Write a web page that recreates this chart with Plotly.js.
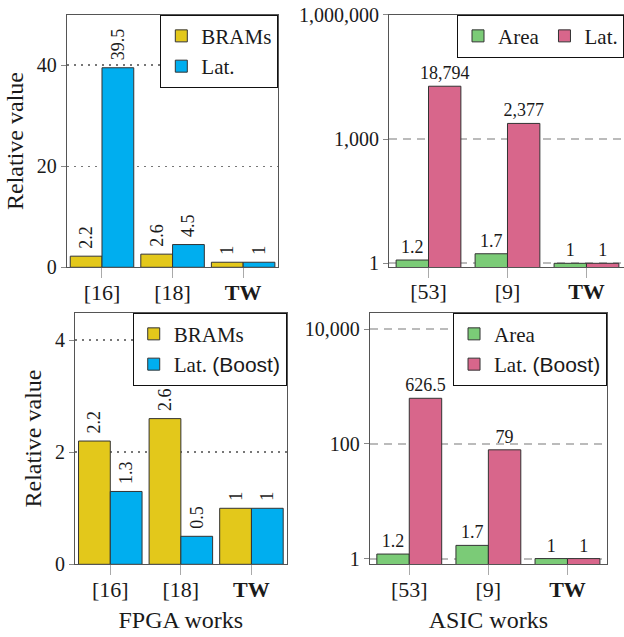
<!DOCTYPE html>
<html><head><meta charset="utf-8">
<script src="https://cdn.plot.ly/plotly-3.0.1.min.js"></script>
<style>html,body{margin:0;padding:0;background:#fff}</style>
</head><body><div id="chart" style="width:624px;height:637px"></div>
<script>
// ---- data ----
const fpgaCats = ['[16]', '[18]', 'TW'];
const asicCats = ['[53]', '[9]', 'TW'];
const fpgaTickText = ['[16]', '[18]', '<b>TW</b>'];
const asicTickText = ['[53]', '[9]', '<b>TW</b>'];

const fpgaBrams = [2.2, 2.6, 1];
const fpgaLat = [39.5, 4.5, 1];
const fpgaBramsBoost = [2.2, 2.6, 1];
const fpgaLatBoost = [1.3, 0.5, 1];

const asicArea = [1.2, 1.7, 1];
const asicLat = [18794, 2377, 1];
const asicAreaBoost = [1.2, 1.7, 1];
const asicLatBoost = [626.5, 79, 1];

const tlTicks = [0, 20, 40];
const blTicks = [0, 2, 4];
const trTicks = [1, 1000, 1000000];
const trTickText = ['1', '1,000', '1,000,000'];
const brTicks = [1, 100, 10000];
const brTickText = ['1', '100', '10,000'];

// ---- style ----
const GOLD = '#E3C81B', CYAN = '#00AEEF', GREEN = '#7BCB77', PINK = '#D8668B';
const SERIF = 'Liberation Serif';
const OUT = {color: '#333', width: 1};

function bar(x, y, name, color, xa, ya, leg, offset, width, angle, tmpl) {
  return {
    type: 'bar', x: x, y: y, name: name, xaxis: xa, yaxis: ya, legend: leg,
    offset: offset, width: width,
    marker: {color: color, line: OUT},
    texttemplate: tmpl, textposition: 'outside', textangle: angle,
    textfont: {family: SERIF, size: 18, color: '#1a1a1a'},
    constraintext: 'none', cliponaxis: false, hoverinfo: 'x+y'
  };
}

const BOOST = 'Lat. <span style="font-family:Liberation Sans">(Boost)</span>';
const VT = '\u00a0%{y}';
const data = [
  bar(fpgaCats, fpgaBrams, 'BRAMs', GOLD, 'x', 'y', 'legend', -0.45, 0.45, -90, VT),
  bar(fpgaCats, fpgaLat, 'Lat.', CYAN, 'x', 'y', 'legend', 0, 0.45, -90, VT),
  bar(asicCats, asicArea, 'Area', GREEN, 'x2', 'y2', 'legend2', -0.41, 0.41, 0, '%{y:,}'),
  bar(asicCats, asicLat, 'Lat.', PINK, 'x2', 'y2', 'legend2', 0, 0.41, 0, '%{y:,}'),
  bar(fpgaCats, fpgaBramsBoost, 'BRAMs', GOLD, 'x3', 'y3', 'legend3', -0.45, 0.45, -90, VT),
  bar(fpgaCats, fpgaLatBoost, BOOST, CYAN, 'x3', 'y3', 'legend3', 0, 0.45, -90, VT),
  bar(asicCats, asicAreaBoost, 'Area', GREEN, 'x4', 'y4', 'legend4', -0.41, 0.41, 0, '%{y:,}'),
  bar(asicCats, asicLatBoost, BOOST, PINK, 'x4', 'y4', 'legend4', 0, 0.41, 0, '%{y:,}')
];

function xax(domain, anchor, cats, ticktext, range, title) {
  const a = {
    domain: domain, anchor: anchor, type: 'category', range: range,
    tickmode: 'array', tickvals: cats, ticktext: ticktext,
    showline: true, linecolor: '#555', linewidth: 1, mirror: true,
    ticks: 'outside', ticklen: 10, tickcolor: '#aaa', tickwidth: 1,
    ticklabelstandoff: -5,
    tickfont: {family: SERIF, size: 22, color: '#1a1a1a'},
    showgrid: false, zeroline: false, fixedrange: true
  };
  if (title) a.title = {text: title, font: {family: SERIF, size: 24, color: '#1a1a1a'}, standoff: 10};
  return a;
}
function yax(domain, anchor, opts, title) {
  const a = Object.assign({
    domain: domain, anchor: anchor,
    showline: true, linecolor: '#555', linewidth: 1, mirror: true,
    ticks: 'outside', ticklen: 5, tickcolor: '#888', tickwidth: 1,
    tickfont: {family: SERIF, size: 20, color: '#1a1a1a'},
    showgrid: true, zeroline: false, fixedrange: true
  }, opts);
  if (title) a.title = {text: title, font: {family: SERIF, size: 24, color: '#1a1a1a'}, standoff: 6};
  return a;
}
const dotGrid = {gridcolor: '#777', gridwidth: 1.5, griddash: '2px,5px'};
const dashGrid = {gridcolor: '#bbb', gridwidth: 2, griddash: '8px,6px'};

function legendAt(x, y, horiz) {
  return {
    x: x, y: y, xanchor: 'right', yanchor: 'top', xref: 'paper', yref: 'paper',
    orientation: horiz ? 'h' : 'v',
    bgcolor: '#fff', bordercolor: '#111', borderwidth: 1,
    font: {family: SERIF, size: 21, color: '#1a1a1a'},
    tracegroupgap: 0, itemclick: false, itemdoubleclick: false
  };
}

const layout = {
  width: 624, height: 637,
  margin: {l: 0, r: 0, t: 0, b: 0},
  paper_bgcolor: '#fff', plot_bgcolor: '#fff',
  font: {family: SERIF, color: '#1a1a1a'},
  barmode: 'group',
  showlegend: true,
  xaxis: xax([0.1069, 0.4462], 'y', fpgaCats, fpgaTickText, [-0.5, 2.5]),
  yaxis: yax([0.5804, 0.9769], 'x', Object.assign({range: [0, 50], tickmode: 'array', tickvals: tlTicks}, dotGrid), 'Relative value'),
  xaxis2: xax([0.6234, 1.0], 'y2', asicCats, asicTickText, [-0.5, 2.475]),
  yaxis2: yax([0.5808, 0.9769], 'x2', Object.assign({type: 'log', range: [-0.09, 6.0], tickmode: 'array', tickvals: trTicks, ticktext: trTickText}, dashGrid)),
  xaxis3: xax([0.1202, 0.4595], 'y3', fpgaCats, fpgaTickText, [-0.5, 2.5], 'FPGA works'),
  yaxis3: yax([0.1141, 0.5091], 'x3', Object.assign({range: [0, 4.49], tickmode: 'array', tickvals: blTicks}, dotGrid), 'Relative value'),
  xaxis4: xax([0.5925, 0.9728], 'y4', asicCats, asicTickText, [-0.5, 2.5], 'ASIC works'),
  yaxis4: yax([0.1141, 0.5091], 'x4', Object.assign({type: 'log', range: [-0.1, 4.29], tickmode: 'array', tickvals: brTicks, ticktext: brTickText}, dashGrid)),
  legend: legendAt(0.446, 0.9769, false),
  legend2: legendAt(1.0, 0.9769, true),
  legend3: legendAt(0.4595, 0.5091, false),
  legend4: legendAt(0.9728, 0.5091, false)
};

Plotly.newPlot('chart', data, layout, {displayModeBar: false, staticPlot: true});
</script>
</body></html>
